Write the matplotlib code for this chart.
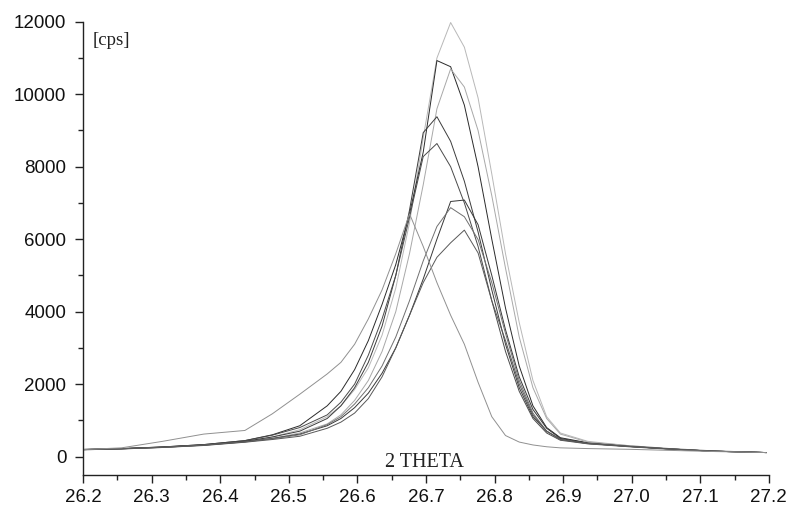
import matplotlib
matplotlib.use("Agg")
import matplotlib.pyplot as plt
from matplotlib.ticker import MultipleLocator

# Diffraction angle grid (2 theta, degrees)
two_theta = [26.196, 26.256, 26.316, 26.376, 26.436, 26.476, 26.516, 26.556, 26.576,
             26.596, 26.616, 26.636, 26.656, 26.676, 26.696, 26.716, 26.736, 26.756,
             26.776, 26.796, 26.816, 26.836, 26.856, 26.876, 26.896, 26.936, 26.996,
             27.056, 27.116, 27.196]

# Intensity scans [cps]
scan_a = [190, 215, 255, 320, 420, 540, 740, 1100, 1400, 1850, 2450, 3350, 4650, 6450,
          8800, 11000, 11980, 11300, 9900, 7800, 5600, 3700, 2100, 1100, 650, 420, 300,
          220, 160, 110]
scan_b = [195, 220, 265, 330, 440, 600, 850, 1400, 1800, 2400, 3200, 4200, 5300, 6700,
          8400, 10930, 10760, 9700, 8000, 6000, 4100, 2500, 1400, 800, 520, 380, 290,
          210, 150, 110]
scan_c = [185, 210, 250, 310, 400, 500, 650, 900, 1150, 1550, 2100, 2900, 4000, 5600,
          7500, 9600, 10700, 10200, 9000, 7200, 5200, 3300, 1900, 1050, 620, 400, 300,
          220, 160, 110]
scan_d = [190, 215, 260, 320, 420, 540, 700, 1050, 1400, 1900, 2600, 3600, 5000, 6800,
          8940, 9380, 8700, 7600, 6200, 4600, 3100, 1900, 1100, 700, 480, 360, 280,
          210, 150, 110]
scan_e = [195, 220, 265, 330, 440, 590, 800, 1150, 1500, 2000, 2800, 3800, 5000, 6600,
          8280, 8640, 8000, 7000, 5800, 4300, 2900, 1800, 1050, 650, 450, 350, 270,
          200, 150, 110]
scan_f = [190, 215, 255, 315, 410, 500, 620, 850, 1050, 1350, 1750, 2300, 3000, 3900,
          4900, 6000, 7040, 7080, 6400, 5000, 3500, 2200, 1300, 780, 500, 370, 280,
          210, 150, 110]
scan_g = [190, 215, 255, 315, 405, 490, 600, 880, 1100, 1450, 1900, 2500, 3300, 4300,
          5400, 6350, 6870, 6620, 5990, 4800, 3400, 2100, 1200, 700, 470, 360, 280,
          210, 150, 110]
scan_h = [185, 210, 250, 305, 395, 470, 560, 780, 950, 1200, 1600, 2200, 3000, 3900,
          4800, 5500, 5900, 6250, 5620, 4300, 3200, 2000, 1150, 700, 470, 360, 280,
          210, 150, 110]
scan_i = [190, 240, 420, 620, 720, 1180, 1720, 2280, 2600, 3100, 3800, 4600, 5600, 6700,
          5800, 4800, 3900, 3100, 2050, 1100, 580, 400, 320, 270, 240, 220, 200,
          170, 140, 110]

scans = [scan_a, scan_b, scan_c, scan_d, scan_e, scan_f, scan_g, scan_h, scan_i]
shades = ["#b8b8b8", "#2a2a2a", "#a8a8a8", "#3c3c3c", "#4a4a4a", "#383838",
          "#707070", "#585858", "#909090"]

y_ticks = [0, 2000, 4000, 6000, 8000, 10000, 12000]
x_ticks = [26.2, 26.3, 26.4, 26.5, 26.6, 26.7, 26.8, 26.9, 27.0, 27.1, 27.2]
x_tick_labels = ["26.2", "26.3", "26.4", "26.5", "26.6", "26.7", "26.8", "26.9",
                 "27.0", "27.1", "27.2"]

fig = plt.figure(figsize=(7.91, 5.07), dpi=100)
ax = fig.add_axes([0.105, 0.063, 0.867, 0.894])

for values, shade in zip(scans, shades):
    ax.plot(two_theta, values, color=shade, lw=0.7, clip_on=True)

ax.set_xlim(26.2, 27.2)
ax.set_ylim(-511, 12000)

for side in ("top", "right"):
    ax.spines[side].set_visible(False)
for side in ("left", "bottom"):
    ax.spines[side].set_linewidth(1.0)
    ax.spines[side].set_color("#222222")

ax.set_xticks(x_ticks)
ax.set_xticklabels(x_tick_labels)
ax.set_yticks(y_ticks)
ax.xaxis.set_minor_locator(MultipleLocator(0.05))
ax.yaxis.set_minor_locator(MultipleLocator(1000))
ax.tick_params(which="major", direction="out", length=6, width=1.0,
               labelsize=13.5, color="#222222", labelcolor="#111111")
ax.tick_params(axis="x", which="major", pad=4)
ax.tick_params(axis="y", which="major", pad=6)
ax.tick_params(which="minor", direction="out", length=3.5, width=1.0, color="#222222")
for lab in ax.get_xticklabels() + ax.get_yticklabels():
    lab.set_family("Liberation Sans")

ax.text(26.2146, 11365, "[cps]", family="Liberation Serif", fontsize=13.5,
        color="#222222", ha="left", va="baseline")
ax.text(26.640, -290, "2 THETA", family="Liberation Serif", fontsize=14.5,
        color="#222222", ha="left", va="baseline")

fig.savefig("out.png", dpi=100, facecolor="white")
